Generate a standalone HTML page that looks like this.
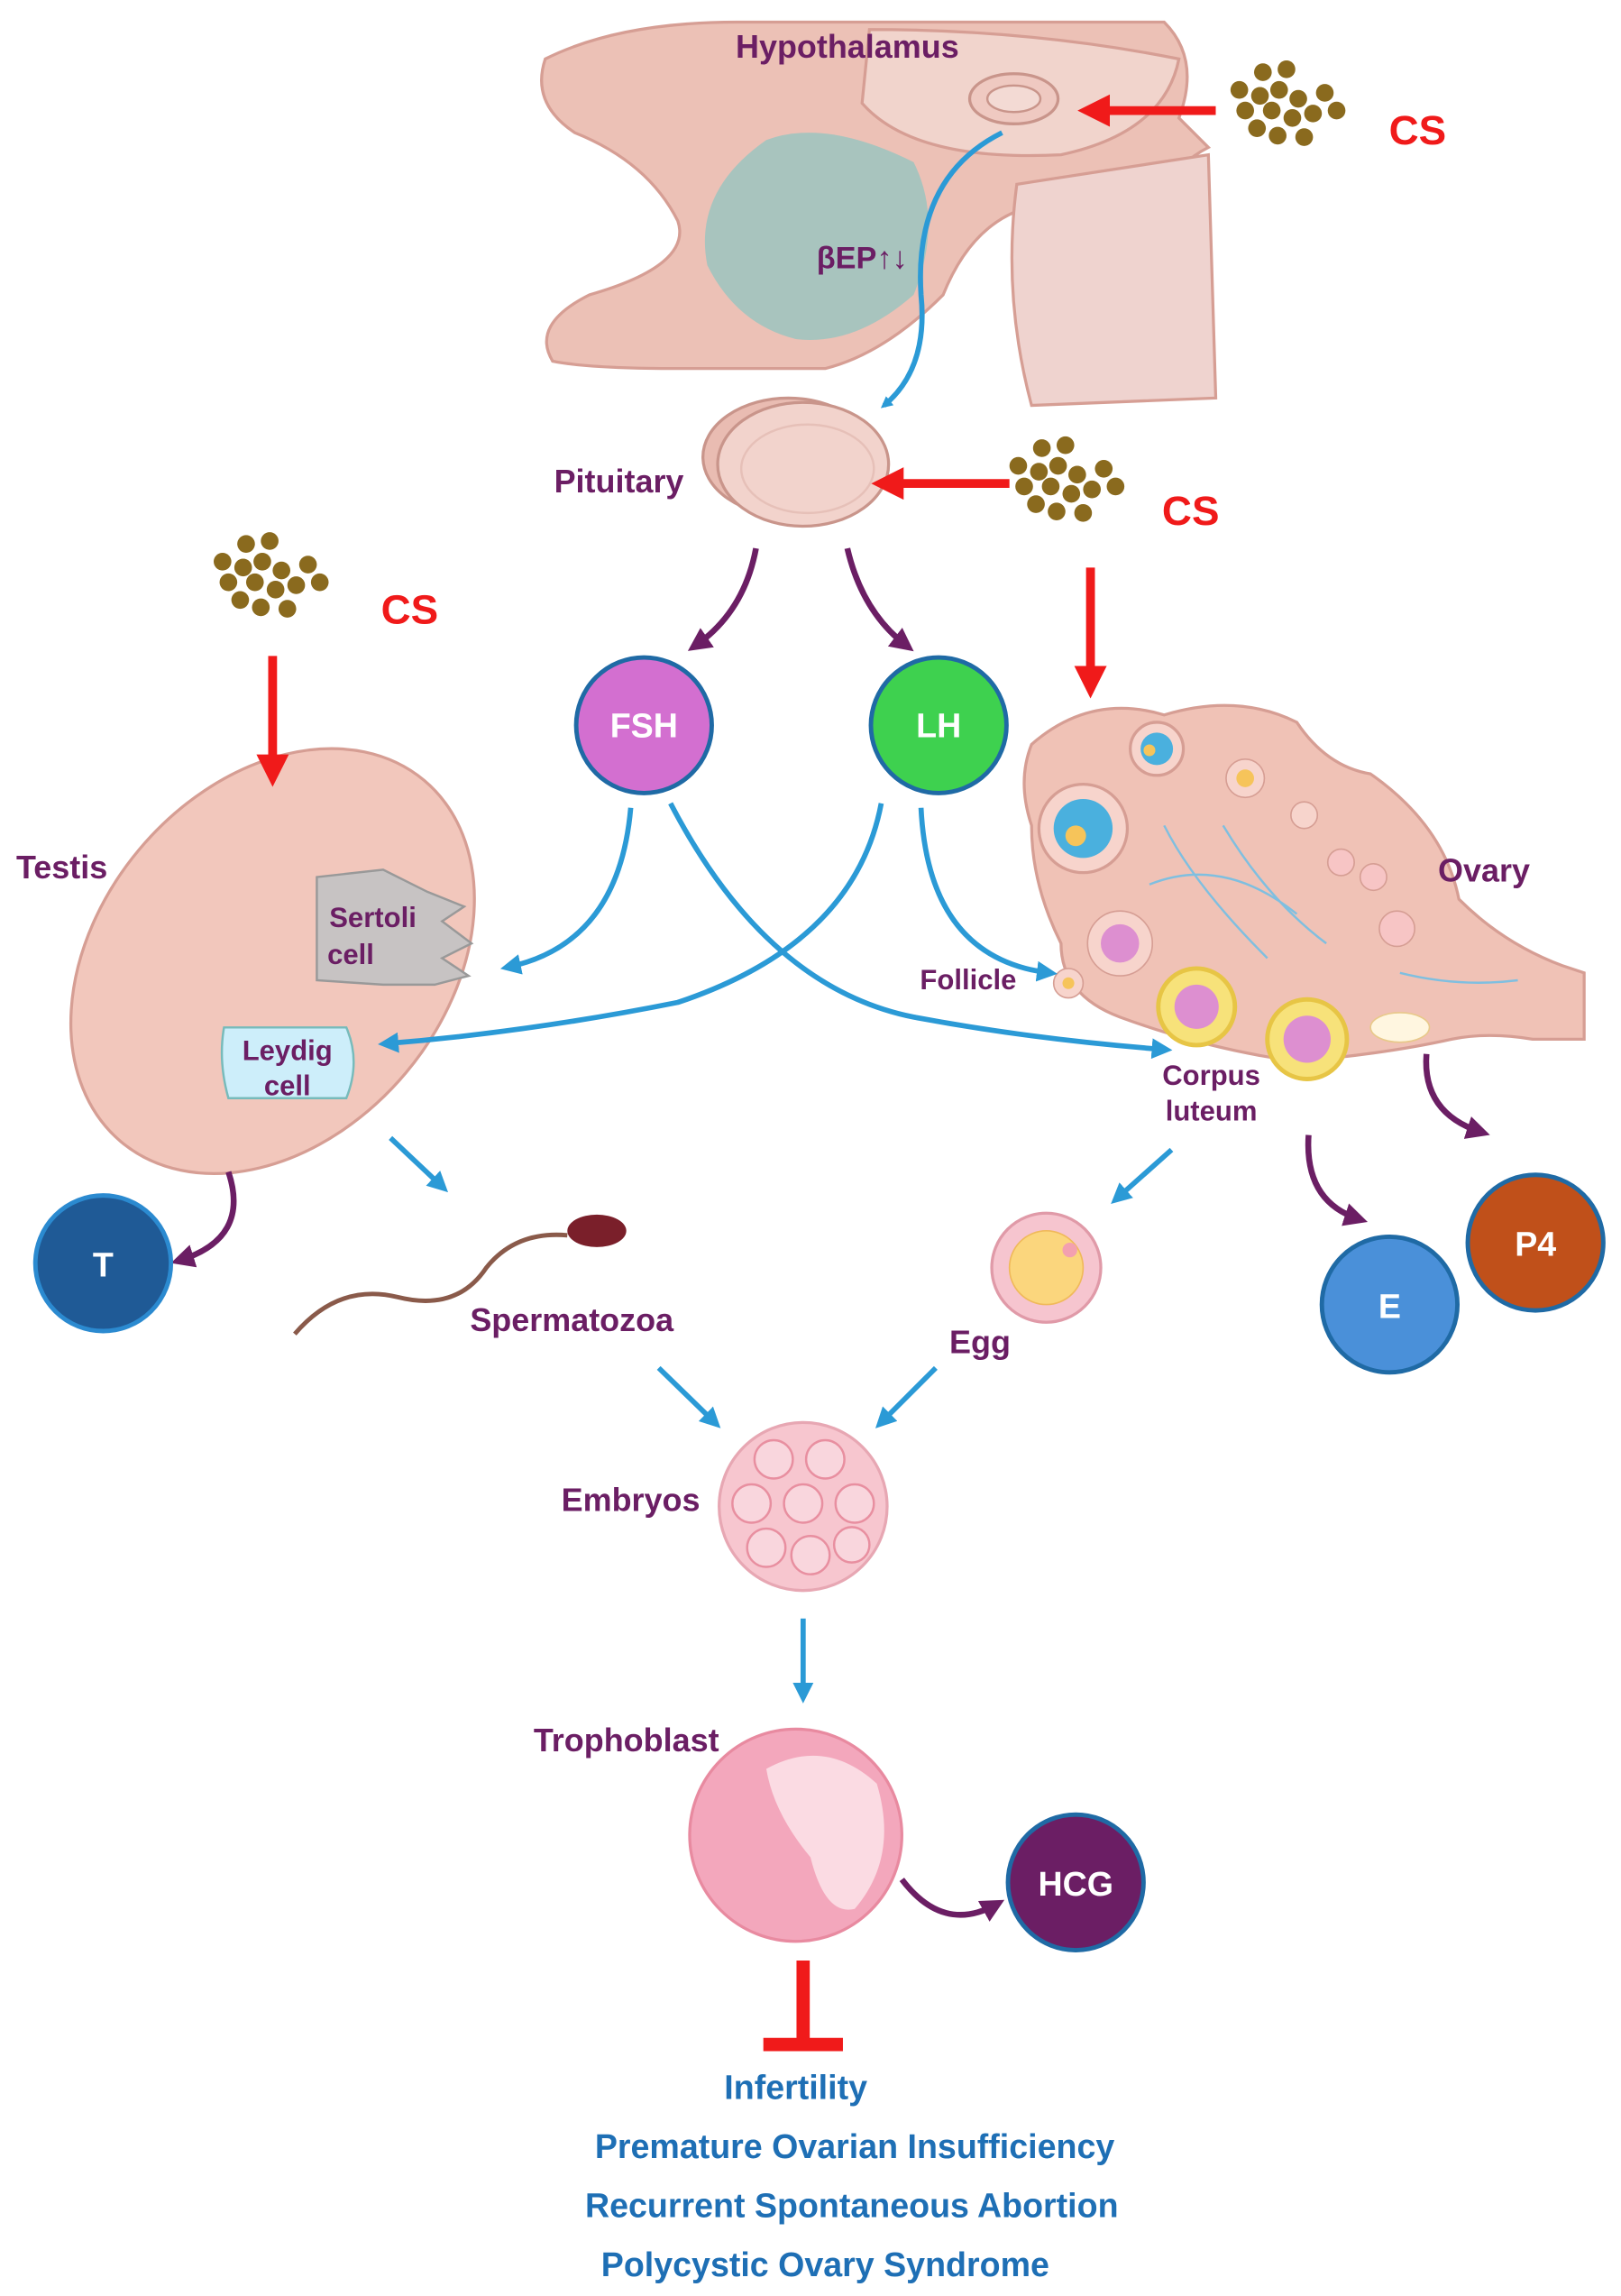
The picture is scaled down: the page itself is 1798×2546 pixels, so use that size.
<!DOCTYPE html>
<html><head><meta charset="utf-8"><style>
html,body{margin:0;padding:0;background:#fff}
svg{display:block}
text{font-family:"Liberation Sans",Arial,sans-serif;font-weight:bold}
</style></head><body>
<svg width="1798" height="2546" viewBox="0 0 1100 1557.6" xmlns="http://www.w3.org/2000/svg">
<defs>
<marker id="bA" markerWidth="8" markerHeight="8" refX="5" refY="4" orient="auto" markerUnits="userSpaceOnUse" viewBox="0 0 8 8"><path d="M0,0 L8,4 L0,8 z" fill="#2b9ad6"/></marker>
<marker id="bB" viewBox="0 0 10 10" refX="6" refY="5" markerWidth="14" markerHeight="14" orient="auto" markerUnits="userSpaceOnUse"><path d="M0,0 L10,5 L0,10 z" fill="#2b9ad6"/></marker>
<marker id="pA" viewBox="0 0 10 10" refX="6" refY="5" markerWidth="16" markerHeight="16" orient="auto" markerUnits="userSpaceOnUse"><path d="M0,0 L10,5 L0,10 z" fill="#6b1e64"/></marker>
<marker id="rA" viewBox="0 0 10 10" refX="6" refY="5" markerWidth="22" markerHeight="22" orient="auto" markerUnits="userSpaceOnUse"><path d="M0,0 L10,5 L0,10 z" fill="#f01a1a"/></marker>
<g id="cs">
<circle cx="0" cy="0" r="6" fill="#8a6a1e"/><circle cx="13" cy="-4" r="6" fill="#8a6a1e"/><circle cx="26" cy="2" r="6" fill="#8a6a1e"/><circle cx="8" cy="10" r="6" fill="#8a6a1e"/><circle cx="22" cy="15" r="6" fill="#8a6a1e"/><circle cx="36" cy="12" r="6" fill="#8a6a1e"/><circle cx="-10" cy="10" r="6" fill="#8a6a1e"/><circle cx="-2" cy="22" r="6" fill="#8a6a1e"/><circle cx="12" cy="27" r="6" fill="#8a6a1e"/><circle cx="44" cy="-2" r="6" fill="#8a6a1e"/><circle cx="52" cy="10" r="6" fill="#8a6a1e"/><circle cx="30" cy="28" r="6" fill="#8a6a1e"/><circle cx="-14" cy="-4" r="6" fill="#8a6a1e"/><circle cx="2" cy="-16" r="6" fill="#8a6a1e"/><circle cx="18" cy="-18" r="6" fill="#8a6a1e"/></g>
</defs>

<!-- brain -->
<path d="M370,40 Q420,15 500,15 L790,15 Q815,40 800,80 L820,100 Q800,110 790,130 L700,140 Q660,150 640,200 Q600,240 560,250 L460,250 Q400,250 375,245 Q360,220 400,200 Q470,180 460,150 Q440,110 390,90 Q360,70 370,40 Z" fill="#ecc1b6" stroke="#d69e94" stroke-width="2"/>
<path d="M520,95 Q560,80 620,110 Q640,150 620,200 Q580,235 540,230 Q500,220 480,180 Q470,130 520,95 Z" fill="#9cc4c0" opacity="0.85"/>
<path d="M690,125 L820,105 L825,270 L700,275 Q680,200 690,125 Z" fill="#efd3cf" stroke="#d69e94" stroke-width="2"/>
<path d="M590,20 Q700,20 800,40 Q790,90 720,105 Q620,110 585,70 Z" fill="#f1d4cc" stroke="#d69e94" stroke-width="2"/>
<ellipse cx="688" cy="67" rx="30" ry="17" fill="#efc9c1" stroke="#c9958b" stroke-width="2"/>
<ellipse cx="688" cy="67" rx="18" ry="9" fill="#f3dad4" stroke="#c9958b" stroke-width="1.5"/>
<!-- pituitary -->
<ellipse cx="535" cy="310" rx="58" ry="40" fill="#e9bcb2" stroke="#c9958b" stroke-width="2"/>
<ellipse cx="545" cy="315" rx="58" ry="42" fill="#f2d3cc" stroke="#c9958b" stroke-width="2"/>
<ellipse cx="548" cy="318" rx="45" ry="30" fill="none" stroke="#e6c0b8" stroke-width="1.5"/>
<path d="M680,90 Q620,120 625,200 Q630,250 600,275" fill="none" stroke="#2b9ad6" stroke-width="3.5" marker-end="url(#bA)"/>

<text x="575" y="39" font-size="22" fill="#6b1e64" text-anchor="middle">Hypothalamus</text>
<text x="585" y="182" font-size="21" fill="#6b1e64" text-anchor="middle">βEP↑↓</text>
<text x="420" y="334" font-size="22" fill="#6b1e64" text-anchor="middle">Pituitary</text>

<!-- CS -->
<use href="#cs" x="855" y="65"/><text x="962" y="98" font-size="28" fill="#f01a1a" text-anchor="middle">CS</text>
<use href="#cs" x="705" y="320"/><text x="808" y="356" font-size="28" fill="#f01a1a" text-anchor="middle">CS</text>
<use href="#cs" x="165" y="385"/><text x="278" y="423" font-size="28" fill="#f01a1a" text-anchor="middle">CS</text>

<!-- purple from pituitary -->
<path d="M513,372 Q505,415 472,438" fill="none" stroke="#6b1e64" stroke-width="4" marker-end="url(#pA)"/>
<path d="M575,372 Q585,415 615,438" fill="none" stroke="#6b1e64" stroke-width="4" marker-end="url(#pA)"/>

<!-- testis -->
<ellipse cx="185" cy="652" rx="118" ry="160" transform="rotate(40 185 652)" fill="#f2c7bc" stroke="#d69e94" stroke-width="2"/>
<path d="M215,595 L260,590 L290,605 L315,615 L300,625 L320,640 L300,650 L318,662 L295,668 L260,668 L215,665 Z" fill="#c7c3c3" stroke="#999" stroke-width="1.5"/>
<text x="253" y="629" font-size="19" fill="#6b1e64" text-anchor="middle">Sertoli</text>
<text x="238" y="654" font-size="19" fill="#6b1e64" text-anchor="middle">cell</text>
<path d="M152,697 L235,697 Q245,720 235,745 L155,745 Q148,720 152,697 Z" fill="#cdeefa" stroke="#7bb" stroke-width="1.5"/>
<text x="195" y="719" font-size="19" fill="#6b1e64" text-anchor="middle">Leydig</text>
<text x="195" y="743" font-size="19" fill="#6b1e64" text-anchor="middle">cell</text>
<text x="42" y="596" font-size="22" fill="#6b1e64" text-anchor="middle">Testis</text>

<!-- ovary -->
<path d="M700,505 Q740,470 790,485 Q840,470 880,490 Q900,520 930,525 Q980,560 990,610 Q1020,640 1060,655 L1075,660 L1075,705 L1040,705 Q1010,700 985,705 Q940,715 880,720 Q820,712 760,690 Q720,675 720,640 Q700,600 700,560 Q690,530 700,505 Z" fill="#f0c2b6" stroke="#d69e94" stroke-width="2"/>
<circle cx="735" cy="562" r="30" fill="#f7d4cc" stroke="#d69e94" stroke-width="2"/><circle cx="735" cy="562" r="20" fill="#4ab0de"/><circle cx="730" cy="567" r="7" fill="#f6c45a"/>
<circle cx="785" cy="508" r="18" fill="#f7d4cc" stroke="#d69e94" stroke-width="2"/><circle cx="785" cy="508" r="11" fill="#4ab0de"/><circle cx="780" cy="509" r="4" fill="#f6c45a"/>
<circle cx="845" cy="528" r="13" fill="#f7d4cc" stroke="#d69e94"/><circle cx="845" cy="528" r="6" fill="#f6c45a"/>
<circle cx="885" cy="553" r="9" fill="#f7d4cc" stroke="#d69e94"/>
<circle cx="910" cy="585" r="9" fill="#f7c5c5" stroke="#d69e94"/><circle cx="932" cy="595" r="9" fill="#f7c5c5" stroke="#d69e94"/>
<circle cx="948" cy="630" r="12" fill="#f7c5c5" stroke="#d69e94"/>
<circle cx="760" cy="640" r="22" fill="#f7d4cc" stroke="#d69e94"/><circle cx="760" cy="640" r="13" fill="#dd8fd0"/>
<circle cx="725" cy="667" r="10" fill="#f7d4cc" stroke="#d69e94"/><circle cx="725" cy="667" r="4" fill="#f6c45a"/>
<circle cx="812" cy="683" r="26" fill="#f7e27a" stroke="#e7c545" stroke-width="3"/><circle cx="812" cy="683" r="15" fill="#dd8fd0"/>
<circle cx="887" cy="705" r="27" fill="#f7e27a" stroke="#e7c545" stroke-width="3"/><circle cx="887" cy="705" r="16" fill="#dd8fd0"/>
<ellipse cx="950" cy="697" rx="20" ry="10" fill="#fff6e0" stroke="#e8c98a"/>
<path d="M780,600 Q830,580 880,620 M830,560 Q860,610 900,640 M790,560 Q810,600 860,650 M950,660 Q990,670 1030,665" stroke="#7fbfe0" stroke-width="1.5" fill="none"/>
<text x="1007" y="598" font-size="22" fill="#6b1e64" text-anchor="middle">Ovary</text>
<text x="657" y="671" font-size="19" fill="#6b1e64" text-anchor="middle">Follicle</text>
<text x="822" y="736" font-size="19" fill="#6b1e64" text-anchor="middle">Corpus</text>
<text x="822" y="760" font-size="19" fill="#6b1e64" text-anchor="middle">luteum</text>

<!-- FSH / LH -->
<circle cx="437" cy="492" r="46" fill="#d36fd0" stroke="#1f6aa5" stroke-width="3"/>
<text x="437" y="500" font-size="23" fill="#fff" text-anchor="middle">FSH</text>
<circle cx="637" cy="492" r="46" fill="#3ed14f" stroke="#1f6aa5" stroke-width="3"/>
<text x="637" y="500" font-size="23" fill="#fff" text-anchor="middle">LH</text>

<!-- blue connectors -->
<path d="M428,548 Q420,640 345,656" fill="none" stroke="#2b9ad6" stroke-width="3.5" marker-end="url(#bB)"/>
<path d="M455,545 Q520,670 620,690 Q700,705 790,712" fill="none" stroke="#2b9ad6" stroke-width="3.5" marker-end="url(#bB)"/>
<path d="M598,545 Q580,640 460,680 Q360,700 262,708" fill="none" stroke="#2b9ad6" stroke-width="3.5" marker-end="url(#bB)"/>
<path d="M625,548 Q630,650 712,660" fill="none" stroke="#2b9ad6" stroke-width="3.5" marker-end="url(#bB)"/>

<!-- purple outputs -->
<path d="M155,795 Q170,840 122,855" fill="none" stroke="#6b1e64" stroke-width="4" marker-end="url(#pA)"/>
<path d="M888,770 Q885,815 922,827" fill="none" stroke="#6b1e64" stroke-width="4" marker-end="url(#pA)"/>
<path d="M968,715 Q965,755 1005,768" fill="none" stroke="#6b1e64" stroke-width="4" marker-end="url(#pA)"/>

<circle cx="70" cy="857" r="46" fill="#1f5a96" stroke="#2b8ad0" stroke-width="3"/>
<text x="70" y="866" font-size="23" fill="#fff" text-anchor="middle">T</text>
<circle cx="1042" cy="843" r="46" fill="#c0501a" stroke="#1f6aa5" stroke-width="3"/>
<text x="1042" y="852" font-size="23" fill="#fff" text-anchor="middle">P4</text>
<circle cx="943" cy="885" r="46" fill="#4a90d9" stroke="#1f6aa5" stroke-width="3"/>
<text x="943" y="894" font-size="23" fill="#fff" text-anchor="middle">E</text>

<!-- sperm -->
<line x1="265" y1="772" x2="300" y2="805" stroke="#2b9ad6" stroke-width="3.5" marker-end="url(#bB)"/>
<path d="M200,905 Q230,870 270,880 Q310,890 330,860 Q350,835 385,838" fill="none" stroke="#8a5a4a" stroke-width="3"/>
<ellipse cx="405" cy="835" rx="20" ry="11" fill="#7a1f2a"/>
<text x="388" y="903" font-size="22" fill="#6b1e64" text-anchor="middle">Spermatozoa</text>

<!-- egg -->
<line x1="795" y1="780" x2="758" y2="813" stroke="#2b9ad6" stroke-width="3.5" marker-end="url(#bB)"/>
<circle cx="710" cy="860" r="37" fill="#f6c5cf" stroke="#e09aa8" stroke-width="2"/>
<circle cx="710" cy="860" r="25" fill="#fbd67d" stroke="#f0b95a"/>
<circle cx="726" cy="848" r="5" fill="#f3a0b0"/>
<text x="665" y="918" font-size="22" fill="#6b1e64" text-anchor="middle">Egg</text>

<!-- embryo -->
<line x1="447" y1="928" x2="485" y2="965" stroke="#2b9ad6" stroke-width="3.5" marker-end="url(#bB)"/>
<line x1="635" y1="928" x2="598" y2="965" stroke="#2b9ad6" stroke-width="3.5" marker-end="url(#bB)"/>
<circle cx="545" cy="1022" r="57" fill="#f7c6cf" stroke="#e7a7b3" stroke-width="2"/>
<g fill="#f9d6dd" stroke="#e88fa0" stroke-width="1.5">
<circle cx="525" cy="990" r="13"/><circle cx="560" cy="990" r="13"/><circle cx="510" cy="1020" r="13"/><circle cx="545" cy="1020" r="13"/><circle cx="580" cy="1020" r="13"/><circle cx="520" cy="1050" r="13"/><circle cx="550" cy="1055" r="13"/><circle cx="578" cy="1048" r="12"/></g>
<text x="428" y="1025" font-size="22" fill="#6b1e64" text-anchor="middle">Embryos</text>

<!-- trophoblast -->
<line x1="545" y1="1098" x2="545" y2="1150" stroke="#2b9ad6" stroke-width="3.5" marker-end="url(#bB)"/>
<circle cx="540" cy="1245" r="72" fill="#f3a7bc" stroke="#e88aa0" stroke-width="2"/>
<path d="M520,1200 Q560,1178 595,1210 Q610,1260 580,1295 Q560,1300 550,1260 Q525,1230 520,1200 Z" fill="#fbdbe3"/>
<text x="425" y="1188" font-size="22" fill="#6b1e64" text-anchor="middle">Trophoblast</text>
<path d="M612,1275 Q640,1312 676,1292" fill="none" stroke="#6b1e64" stroke-width="4" marker-end="url(#pA)"/>
<circle cx="730" cy="1277" r="46" fill="#6b1e64" stroke="#1f6aa5" stroke-width="3"/>
<text x="730" y="1286" font-size="23" fill="#fff" text-anchor="middle">HCG</text>

<!-- red arrows (on top) -->
<line x1="825" y1="75" x2="740" y2="75" stroke="#f01a1a" stroke-width="6" marker-end="url(#rA)"/>
<line x1="685" y1="328" x2="600" y2="328" stroke="#f01a1a" stroke-width="6" marker-end="url(#rA)"/>
<line x1="740" y1="385" x2="740" y2="465" stroke="#f01a1a" stroke-width="6" marker-end="url(#rA)"/>
<line x1="185" y1="445" x2="185" y2="525" stroke="#f01a1a" stroke-width="6" marker-end="url(#rA)"/>

<!-- inhibition -->
<line x1="545" y1="1330" x2="545" y2="1386" stroke="#f01a1a" stroke-width="9"/>
<line x1="518" y1="1387" x2="572" y2="1387" stroke="#f01a1a" stroke-width="9"/>

<g font-size="23" fill="#1e6fb5" text-anchor="middle">
<text x="540" y="1424">Infertility</text>
<text x="580" y="1464">Premature Ovarian Insufficiency</text>
<text x="578" y="1504">Recurrent Spontaneous Abortion</text>
<text x="560" y="1544">Polycystic Ovary Syndrome</text>
</g>
</svg>
</body></html>
